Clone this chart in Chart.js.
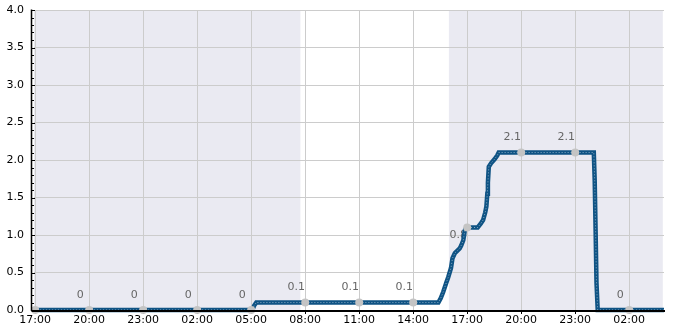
<!DOCTYPE html>
<html>
<head>
<meta charset="utf-8">
<script src="https://cdn.jsdelivr.net/npm/chart.js@4/dist/chart.umd.min.js"></script>
<style>
  html, body { margin: 0; padding: 0; background: #fff; }
  canvas { display: block; }
</style>
</head>
<body>
<canvas id="powerChart" width="685" height="330"></canvas>
<script>
// times run from 16:56 on day 1 to 03:56 on day 3, rollover handled below
const lineTimes = ['16:56', '05:04', '05:10', '05:17', '15:24', '15:32', '15:40', '15:50', '15:57',
  '16:06', '16:11', '16:19', '16:35', '16:40', '16:47', '16:52', '16:57', '17:35', '17:45', '17:53',
  '18:00', '18:04', '18:07', '18:09', '18:12', '18:20', '18:31', '18:40', '18:45', '00:02', '00:05',
  '00:08', '00:11', '00:15', '03:56'];
const lineValues = [0, 0, 0.06, 0.1, 0.1, 0.16, 0.24, 0.36, 0.44,
  0.56, 0.69, 0.76, 0.82, 0.86, 0.93, 1.06, 1.1, 1.1, 1.15, 1.2,
  1.3, 1.38, 1.55, 1.7, 1.91, 1.96, 2.01, 2.06, 2.1, 2.1, 1.73,
  1.07, 0.36, 0, 0];

const markerTimes = ['17:00', '20:00', '23:00', '02:00', '05:00', '08:00', '11:00', '14:00', '17:00', '20:00', '23:00', '02:00'];
const markerValues = [0, 0, 0, 0, 0, 0.1, 0.1, 0.1, 1.1, 2.1, 2.1, 0];
const labelValues = [null, 0, 0, 0, 0, 0.1, 0.1, 0.1, 0.8, 2.1, 2.1, 0];

const tickLabels = ['17:00', '20:00', '23:00', '02:00', '05:00', '08:00', '11:00', '14:00', '17:00', '20:00', '23:00', '02:00'];
const axisStart = '16:56';
const axisEnd = '03:56';
const daylight = ['07:44', '15:59'];
const shadeEnd = '03:52';

// hours since 17:00 on the first day
function toHours(list) {
  let day = 0, prev = -1;
  return list.map(t => {
    const [h, m] = t.split(':').map(Number);
    let v = h + m / 60;
    if (v < prev) day++;
    prev = v;
    return v + day * 24 - 17;
  });
}
function oneHour(t, afterMidnight) {
  const [h, m] = t.split(':').map(Number);
  return h + m / 60 - 17 + (afterMidnight ? 24 : 0);
}

const lineHours = toHours(lineTimes);
const markerHours = toHours(markerTimes);
const tickHours = toHours(tickLabels);
const xMin = oneHour(axisStart, false);
const xMax = oneHour(axisEnd, true) + 24;
const dayStart = oneHour(daylight[0], true);
const dayEnd = oneHour(daylight[1], true);
const shadeStop = oneHour(shadeEnd, true) + 24;

const lineData = lineHours.map((x, i) => ({ x: x, y: lineValues[i] }));
const markerData = markerHours.map((x, i) => ({ x: x, y: markerValues[i] }));

Chart.defaults.font.family = "'DejaVu Sans', sans-serif";
Chart.defaults.font.size = 11;
Chart.defaults.color = '#000';

const backgroundBands = {
  id: 'backgroundBands',
  beforeDraw(chart) {
    const { ctx, chartArea: a, scales: { x } } = chart;
    ctx.save();
    ctx.fillStyle = '#eaeaf2';
    ctx.fillRect(a.left, a.top, x.getPixelForValue(shadeStop) - a.left, a.bottom - a.top);
    ctx.fillStyle = '#ffffff';
    const x0 = x.getPixelForValue(dayStart), x1 = x.getPixelForValue(dayEnd);
    ctx.fillRect(x0, a.top, x1 - x0, a.bottom - a.top);
    ctx.restore();
  }
};

const valueLabels = {
  id: 'valueLabels',
  beforeDatasetsDraw(chart) {
    const { ctx, scales: { x, y } } = chart;
    ctx.save();
    ctx.font = "11px 'DejaVu Sans'";
    ctx.fillStyle = '#666';
    ctx.textAlign = 'center';
    ctx.textBaseline = 'middle';
    labelValues.forEach((v, i) => {
      if (v === null) return;
      ctx.fillText(String(v), x.getPixelForValue(markerHours[i]) - 9, y.getPixelForValue(v) - 15);
    });
    ctx.restore();
  }
};

const axisLines = {
  id: 'axisLines',
  afterDatasetsDraw(chart) {
    const { ctx, chartArea: a, scales: { y } } = chart;
    ctx.save();
    ctx.strokeStyle = '#000';
    ctx.lineWidth = 1.5;
    const sx = a.left - 2.5;
    ctx.beginPath();
    ctx.moveTo(sx, a.top - 0.5);
    ctx.lineTo(sx, a.bottom + 1);
    ctx.stroke();
    ctx.lineWidth = 1;
    for (let i = 0; i <= 40; i++) {
      const py = Math.round(y.getPixelForValue(i / 10)) + 0.5;
      ctx.beginPath();
      ctx.moveTo(sx, py);
      ctx.lineTo(i % 5 === 0 ? a.left + 1 : a.left, py);
      ctx.stroke();
    }
    ctx.lineWidth = 2;
    ctx.beginPath();
    ctx.moveTo(sx, a.bottom + 1);
    ctx.lineTo(a.right + 1, a.bottom + 1);
    ctx.stroke();
    ctx.restore();
  }
};

new Chart(document.getElementById('powerChart'), {
  type: 'line',
  data: {
    datasets: [
      {
        data: markerData,
        showLine: false,
        pointRadius: 4,
        pointBackgroundColor: '#c4c4c4',
        pointBorderWidth: 0,
        clip: false
      },
      {
        data: lineData,
        borderColor: 'rgba(235,242,248,0.55)',
        borderWidth: 1,
        borderDash: [1, 2],
        pointRadius: 0,
        tension: 0
      },
      {
        data: lineData,
        borderColor: '#0f5384',
        borderWidth: 4.5,
        pointRadius: 0,
        tension: 0,
        clip: false
      }
    ]
  },
  options: {
    responsive: false,
    animation: false,
    layout: { padding: { top: 10, right: 21, left: 0, bottom: 0 } },
    plugins: { legend: { display: false }, tooltip: { enabled: false } },
    scales: {
      x: {
        type: 'linear',
        min: xMin,
        max: xMax,
        afterBuildTicks(scale) {
          scale.ticks = tickHours.map(v => ({ value: v }));
        },
        afterFit(scale) {
          scale.height = 20;
          scale.paddingLeft = 0;
          scale.paddingRight = 0;
        },
        ticks: {
          autoSkip: false,
          maxRotation: 0,
          padding: 0,
          color: '#000',
          callback(value, index) { return tickLabels[index]; }
        },
        grid: { color: '#cccccc', lineWidth: 1, tickLength: 4, tickColor: '#000' },
        border: { display: false }
      },
      y: {
        min: 0,
        max: 4,
        afterFit(scale) {
          scale.width = 34;
          scale.paddingTop = 0;
          scale.paddingBottom = 0;
        },
        ticks: {
          stepSize: 0.5,
          padding: 10,
          color: '#000',
          callback(value) { return value.toFixed(1); }
        },
        grid: { color: '#cccccc', lineWidth: 1, drawTicks: false },
        border: { display: false }
      }
    }
  },
  plugins: [backgroundBands, valueLabels, axisLines]
});
</script>
</body>
</html>
